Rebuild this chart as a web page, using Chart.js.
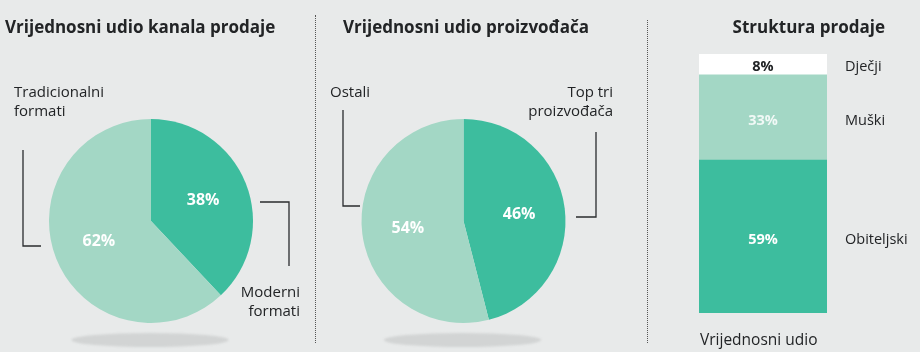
<!DOCTYPE html>
<html>
<head>
<meta charset="utf-8">
<script src="https://cdn.jsdelivr.net/npm/chart.js@4.4.1/dist/chart.umd.min.js"></script>
<style>
  html, body { margin: 0; padding: 0; background: #e8eaea; }
  #wrap { position: relative; width: 920px; height: 352px; overflow: hidden; }
  #wrap canvas { position: absolute; left: 0; top: 0; }
  .sep { position: absolute; width: 0; border-left: 1px dotted #555; }
</style>
</head>
<body>
<div id="wrap">
  <div class="sep" style="left:315px; top:15px; height:328px;"></div>
  <div class="sep" style="left:647px; top:20px; height:323px;"></div>
  <canvas id="channels" width="920" height="352"></canvas>
  <canvas id="makers" width="920" height="352"></canvas>
  <canvas id="structure" width="920" height="352"></canvas>
</div>
<script>
const channelLabels = ["Moderni formati", "Tradicionalni formati"];
const channelShare = [38, 62];
const makerLabels = ["Top tri proizvođača", "Ostali"];
const makerShare = [46, 54];
const segmentLabels = ["Obiteljski", "Muški", "Dječji"];
const segmentShare = [59, 33, 8];
const barCategory = ["Vrijednosni udio"];

const DARK = "#3dbd9e";
const LIGHT = "#a3d7c5";
const INK = "#222426";
const FONT = "'Open Sans', sans-serif";

function splitLabel(txt){
  const i = txt.lastIndexOf(" ");
  if (txt.split(" ").length < 2) return [txt];
  return [txt.slice(0, i), txt.slice(i + 1)];
}

// draws title, shadow, leader lines, slice labels and percentages
const pieDecor = {
  id: "pieDecor",
  beforeDatasetsDraw(chart, args, opts){
    const ctx = chart.ctx;
    const arc = chart.getDatasetMeta(0).data[0];
    ctx.save();
    ctx.filter = "blur(0.8px)";
    ctx.fillStyle = "#d2d4d4";
    ctx.beginPath();
    ctx.ellipse(arc.x - 1, arc.y + arc.outerRadius + 17, arc.outerRadius * 0.77, 7, 0, 0, Math.PI * 2);
    ctx.fill();
    ctx.restore();
  },
  afterDatasetsDraw(chart, args, opts){
    const ctx = chart.ctx;
    const meta = chart.getDatasetMeta(0);
    const data = chart.data.datasets[0].data;
    const cx = meta.data[0].x, cy = meta.data[0].y;
    ctx.save();
    ctx.fillStyle = INK;
    ctx.font = "bold 17px " + FONT;
    ctx.textBaseline = "middle";
    ctx.textAlign = "left";
    ctx.fillText(opts.title, opts.titleX, 28);

    // leader lines
    ctx.strokeStyle = "#2a2c2e";
    ctx.lineWidth = 1.3;
    opts.leaders.forEach((pts) => {
      ctx.beginPath();
      pts.forEach((p, k) => {
        if (k == 0) ctx.moveTo(cx + p[0], cy + p[1]);
        else ctx.lineTo(cx + p[0], cy + p[1]);
      });
      ctx.stroke();
    });

    // category labels
    ctx.font = "500 15px " + FONT;
    chart.data.labels.forEach((lab, i) => {
      const pos = opts.labelPos[i];
      ctx.textAlign = pos.align;
      splitLabel(lab).forEach((line, k) => {
        ctx.fillText(line, pos.x, pos.y + k * 19);
      });
    });

    // percentages
    ctx.fillStyle = "#ffffff";
    ctx.font = "bold 16px " + FONT;
    ctx.textAlign = "center";
    meta.data.forEach((el, i) => {
      const mid = (el.startAngle + el.endAngle) / 2;
      const rr = el.outerRadius * 0.55;
      ctx.fillText(data[i] + "%", el.x + Math.cos(mid) * rr, el.y + Math.sin(mid) * rr);
    });
    ctx.restore();
  }
};

function pieConfig(labels, values, padding, decor){
  return {
    type: "pie",
    data: {
      labels: labels,
      datasets: [{
        data: values,
        backgroundColor: [DARK, LIGHT],
        borderWidth: 0,
      }],
    },
    options: {
      responsive: false,
      animation: false,
      layout: { padding: padding },
      plugins: {
        legend: { display: false },
        tooltip: { enabled: false },
        pieDecor: decor,
      },
    },
    plugins: [pieDecor],
  };
}

new Chart(document.getElementById("channels"), pieConfig(channelLabels, channelShare,
  { left: 49, right: 667, top: 119, bottom: 29 },
  {
    title: "Vrijednosni udio kanala prodaje",
    titleX: 5,
    leaders: [
      [[109, -19], [138, -19], [138, 45]],
      [[-128, -71], [-128, 25], [-110, 25]],
    ],
    labelPos: [
      { x: 300, y: 293, align: "right" },
      { x: 14, y: 93, align: "left" },
    ],
  }));

new Chart(document.getElementById("makers"), pieConfig(makerLabels, makerShare,
  { left: 361.5, right: 354.5, top: 119, bottom: 29 },
  {
    title: "Vrijednosni udio proizvođača",
    titleX: 343,
    leaders: [
      [[132.5, -89], [132.5, -4], [112.5, -4]],
      [[-120.5, -111], [-120.5, -15], [-103.5, -15]],
    ],
    labelPos: [
      { x: 613, y: 93, align: "right" },
      { x: 330, y: 93, align: "left" },
    ],
  }));

const barDecor = {
  id: "barDecor",
  afterDatasetsDraw(chart){
    const ctx = chart.ctx;
    ctx.save();
    ctx.textBaseline = "middle";
    ctx.fillStyle = INK;
    ctx.font = "bold 17px " + FONT;
    ctx.textAlign = "right";
    ctx.fillText("Struktura prodaje", 885, 28);

    ctx.font = "15.5px " + FONT;
    ctx.textAlign = "left";
    ctx.fillText(chart.data.labels[0], chart.chartArea.left + 1, 341);

    chart.data.datasets.forEach((ds, i) => {
      const el = chart.getDatasetMeta(i).data[0];
      const midY = (el.y + el.base) / 2;
      ctx.font = "500 14.5px " + FONT;
      ctx.fillStyle = INK;
      ctx.textAlign = "left";
      ctx.fillText(ds.label, 845, midY + 3);
      ctx.font = "bold 14.5px " + FONT;
      ctx.fillStyle = ds.valueColor;
      ctx.textAlign = "center";
      ctx.fillText(ds.data[0] + "%", el.x, midY + 3);
    });
    ctx.restore();
  }
};

const segmentColors = [DARK, LIGHT, "#ffffff"];
const segmentValueColors = ["#ffffff", "rgba(255,255,255,0.85)", INK];

new Chart(document.getElementById("structure"), {
  type: "bar",
  data: {
    labels: barCategory,
    datasets: segmentLabels.map((lab, i) => ({
      label: lab,
      data: [segmentShare[i]],
      backgroundColor: segmentColors[i],
      valueColor: segmentValueColors[i],
      borderWidth: 0,
      barPercentage: 1,
      categoryPercentage: 1,
    })),
  },
  options: {
    responsive: false,
    animation: false,
    layout: { padding: { left: 699, right: 93, top: 54, bottom: 39 } },
    scales: {
      x: { stacked: true, display: false },
      y: { stacked: true, display: false, min: 0, max: 100 },
    },
    plugins: {
      legend: { display: false },
      tooltip: { enabled: false },
    },
  },
  plugins: [barDecor],
});
</script>
</body>
</html>
